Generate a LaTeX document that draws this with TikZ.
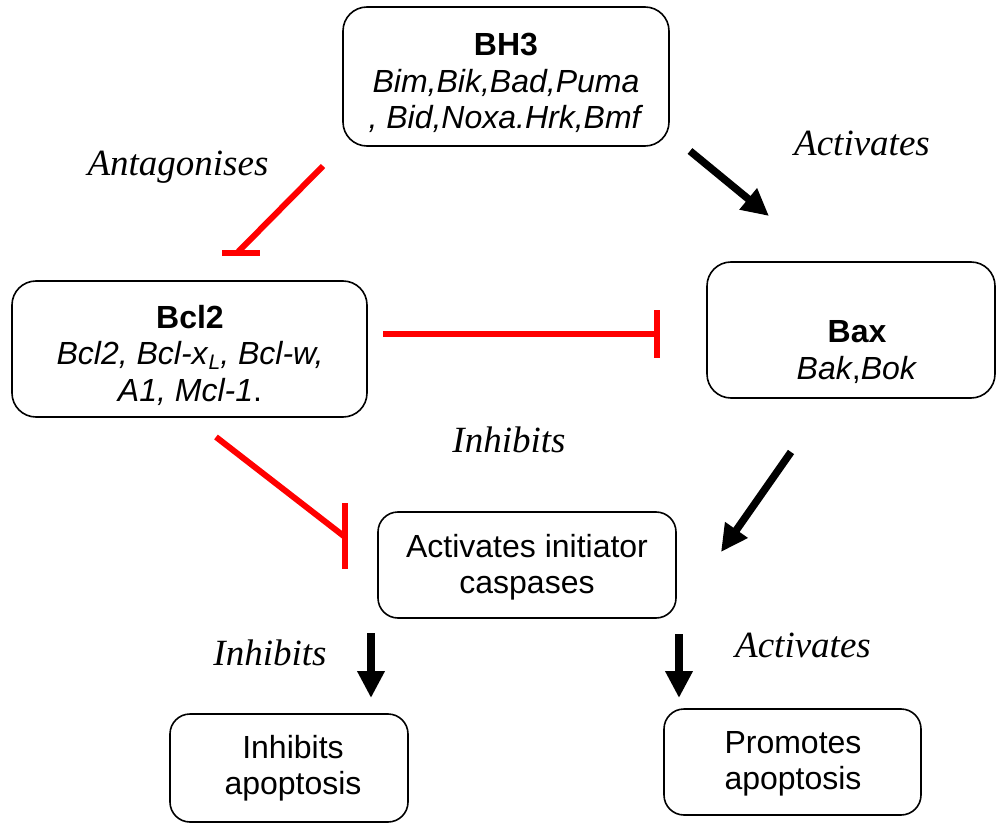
\documentclass[tikz,border=0pt]{standalone}
\usepackage{fontspec}
\setmainfont{Liberation Sans}
\newfontfamily\labfont{Liberation Serif}
\usetikzlibrary{arrows.meta}
\newcommand{\subL}{\raisebox{-0.28ex}{\fontsize{21}{21}\selectfont\itshape L}}
\begin{document}
\begin{tikzpicture}[x=1pt,y=-1pt,
  box/.style={draw=black,line width=1.6pt,rounded corners=24pt,inner sep=0pt},
  txt/.style={align=center,font=\fontsize{32}{36.5}\selectfont,inner sep=0pt},
  lab/.style={font=\labfont\itshape\fontsize{37}{40}\selectfont,inner sep=0pt},
  inh/.style={draw=red,line width=6pt},
  act/.style={draw=black,line width=7.5pt,-{Triangle[length=27pt,width=26pt]}}]
\useasboundingbox (0,0) rectangle (997,824);

% boxes
\node[box,minimum width=326pt,minimum height=139pt] (bh3) at (506,76.5) {};
\node[txt] (bh3t) at (506,83) {\textbf{BH3}\\\textit{Bim,Bik,Bad,Puma}\\\textit{, Bid,Noxa.Hrk,Bmf}};

\node[box,minimum width=355pt,minimum height=136pt] (bcl) at (189.5,349) {};
\node[txt] (bclt) at (190,355) {\textbf{Bcl2}\\\textit{Bcl2, Bcl-x}\subL\textit{, Bcl-w,}\\\textit{A1, Mcl-1}.};

\node[box,minimum width=288pt,minimum height=136pt] (bax) at (851,330) {};
\node[txt] (baxt) at (857,352) {\textbf{Bax}\\\textit{Bak},\textit{Bok}};

\node[box,rounded corners=20pt,minimum width=298pt,minimum height=106pt] (cas) at (527,565) {};
\node[txt] (cast) at (527,567) {Activates initiator\\caspases};

\node[box,rounded corners=20pt,minimum width=238pt,minimum height=108pt] (inh) at (289,768) {};
\node[txt] (inht) at (293,768) {Inhibits\\apoptosis};

\node[box,rounded corners=20pt,minimum width=257pt,minimum height=106pt] (pro) at (792.5,762) {};
\node[txt] (prot) at (793,764) {Promotes\\apoptosis};

% labels
\node[lab] (l1) at (178,167) {Antagonises};
\node[lab] (l2) at (862,143) {Activates};
\node[lab] (l3) at (509,440) {Inhibits};
\node[lab] (l4) at (270,653) {Inhibits};
\node[lab] (l5) at (803,645) {Activates};

% inhibition connectors
\coordinate (a1) at (323,166);
\coordinate (a2) at (238,252);
\coordinate (a3) at (222,253);
\coordinate (a4) at (260,253);
\draw[inh] (a1) -- (a2);
\draw[inh] (a3) -- (a4);

\coordinate (b1) at (383,334);
\coordinate (b2) at (657,334);
\coordinate (b3) at (657,310);
\coordinate (b4) at (657,358);
\draw[inh] (b1) -- (b2);
\draw[inh] (b3) -- (b4);

\coordinate (c1) at (216,437);
\coordinate (c2) at (345,537);
\coordinate (c3) at (345,503);
\coordinate (c4) at (345,569);
\draw[inh] (c1) -- (c2);
\draw[inh] (c3) -- (c4);

% activation arrows
\coordinate (d1) at (690,151);
\coordinate (d2) at (769,216);
\draw[act] (d1) -- (d2);
\coordinate (e1) at (791,452);
\coordinate (e2) at (721,552);
\draw[act] (e1) -- (e2);
\coordinate (f1) at (371,633);
\coordinate (f2) at (371,698);
\draw[act,line width=8.5pt] (f1) -- (f2);
\coordinate (g1) at (679,634);
\coordinate (g2) at (679,698);
\draw[act,line width=8.5pt] (g1) -- (g2);
\end{tikzpicture}
\end{document}
